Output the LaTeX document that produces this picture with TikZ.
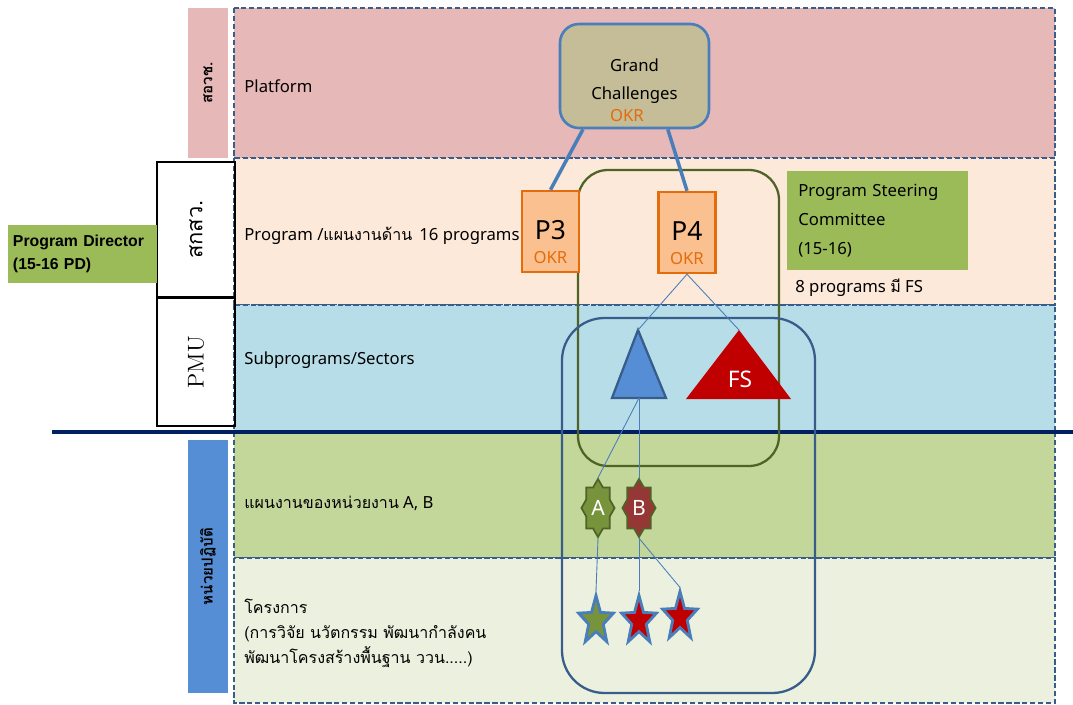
\documentclass[tikz,border=0pt]{standalone}
\usepackage{fontspec}
\setmainfont{Noto Sans}
\newfontfamily\thaifont[Script=Thai,Scale=0.96]{Loma}
\newfontfamily\pdfont{Liberation Sans}
\usetikzlibrary{shapes.geometric,positioning,calc}
\definecolor{pinkband}{HTML}{E6B8B7}
\definecolor{peachband}{HTML}{FDE9D9}
\definecolor{skyband}{HTML}{B7DDE8}
\definecolor{oliveband}{HTML}{C4D79B}
\definecolor{paleband}{HTML}{EBF1DE}
\definecolor{dashblue}{HTML}{385D8A}
\definecolor{navyline}{HTML}{002060}
\definecolor{linkblue}{HTML}{4A7EBB}
\definecolor{gcfill}{HTML}{C4BD97}
\definecolor{okrfill}{HTML}{FAC090}
\definecolor{okrline}{HTML}{E46C0A}
\definecolor{pdgreen}{HTML}{9BBB59}
\definecolor{darkolive}{HTML}{4F6228}
\definecolor{sideblue}{HTML}{558ED5}
\definecolor{fsred}{HTML}{C00000}
\definecolor{agreen}{HTML}{77933C}
\definecolor{bred}{HTML}{953735}
\tikzset{band/.style={
            draw=dashblue,
            line width=1.3pt,
            dash pattern=on 3pt off 1.5pt
        },
        rowlabel/.style={
            anchor=west,
            inner sep=0pt,
            align=left,
            font=\fontsize{9.5}{16.5}\selectfont
        },
        sidebox/.style={
            draw,
            line width=1.3pt,
            inner sep=0pt,
            rotate=90,
            minimum height=15.6mm
        },
        sidetag/.style={
            inner sep=0pt,
            rotate=90,
            minimum height=8mm,
            font=\thaifont\bfseries\fontsize{9}{10}\selectfont
        },
        okrbox/.style={
            draw=okrline,
            fill=okrfill,
            line width=1.4pt,
            inner sep=0pt,
            minimum width=11.4mm,
            minimum height=16.2mm,
            text height=3.9mm,
            text depth=0.9mm,
            font=\fontsize{15}{17}\selectfont,
            label={[text=okrline,anchor=center,yshift=3.2mm,
                    font=\fontsize{9.5}{11}\selectfont]south:OKR}
        },
        greenbox/.style={
            fill=pdgreen,
            inner sep=0pt,
            align=left
        },
        link/.style={
            linkblue,
            line width=0.5pt
        },
        unitstar/.style={
            star,
            star points=8,
            star point ratio=1.3,
            draw=darkolive,
            line width=1pt,
            inner sep=0pt,
            minimum size=11.6mm,
            xscale=0.57
        },
        projstar/.style={
            star,
            star points=5,
            star point ratio=2.4,
            draw=linkblue,
            line width=1.6pt,
            inner sep=0pt,
            minimum size=10.2mm,
            xscale=0.72
        },
        whitetext/.style={
            text=white,
            inner sep=0pt,
            font=\fontsize{12}{14}\selectfont
        }
    }

\begin{document}
\begin{tikzpicture}[x=0.2mm,y=-0.2mm]
        \useasboundingbox (0,0) rectangle (1073,705);
        % bands
        \draw[band,fill=pinkband] (234,8) rectangle (1055,158);
        \draw[band,fill=peachband] (234,158) rectangle (1055,305);
        \draw[band,fill=skyband] (234,305) rectangle (1055,432);
        \draw[band,fill=oliveband] (234,432) rectangle (1055,558);
        \draw[band,fill=paleband] (234,558) rectangle (1055,703);
        \coordinate (lineL) at (52,432);
        \coordinate (lineR) at (1073,432);
        \draw[navyline,line width=2.2pt] (lineL) -- (lineR);

        % left side labels
        \node[sidetag,fill=pinkband,minimum width=30mm] (sorwor) at (208,83) {สอวช.};
        \node[sidebox,minimum width=27mm,font=\thaifont\fontsize{13}{15}\selectfont] (sakasawor) at (196,229.5) {สกสว.};
        \node[sidebox,minimum width=25.6mm,font=\fontfamily{lmr}\selectfont\fontsize{13}{15}\selectfont] (pmu) at (196,362) {PMU};
        \node[sidetag,fill=sideblue,minimum width=50.6mm] (unit) at (208,566.5) {หน่วยปฏิบัติ};
        \node[greenbox,minimum width=29.8mm,minimum height=11.6mm,text width=27.8mm,
              font=\pdfont\bfseries\fontsize{9}{13}\selectfont] (pd) at (82.5,254) {Program Director\\(15-16 PD)};

        % row labels
        \node[rowlabel] (platform) at (244,86) {Platform};
        \node[rowlabel] (program) at (244,236) {Program /{\thaifont แผนงานด้าน}\ \,16 programs};
        \node[rowlabel] (subprog) at (244,360) {Subprograms/Sectors};
        \node[rowlabel] (unitplan) at (244,503) {{\thaifont แผนงานของหน่วยงาน} A, B};
        \node[rowlabel,font=\thaifont\fontsize{9.5}{14.2}\selectfont] (projects) at (244,633)
            {โครงการ\\(การวิจัย นวัตกรรม พัฒนากำลังคน\\พัฒนาโครงสร้างพื้นฐาน ววน.....)};

        % groups
        \draw[darkolive,line width=1.3pt,rounded corners=6mm] (578,170) rectangle (779,466);
        \draw[dashblue,line width=1.3pt,rounded corners=8.5mm] (562,318) rectangle (815,693);

        % boxes
        \node[draw=linkblue,fill=gcfill,line width=1.5pt,rounded corners=3.8mm,
              minimum width=29.8mm,minimum height=20.8mm,align=center,
              font=\fontsize{9.5}{16.5}\selectfont] (gc) at (634.5,76) {\rule{0pt}{4.6mm}Grand\\Challenges};
        \node[text=okrline,inner sep=0pt,font=\fontsize{9.5}{11}\selectfont] (gcokr) at (627,116) {OKR};
        \node[okrbox] (p3) at (550.5,231.5) {P3};
        \node[okrbox] (p4) at (687,232.5) {P4};
        \node[greenbox,anchor=north west,minimum width=36.2mm,minimum height=19.8mm,
              inner xsep=2.2mm,text width=31.8mm,font=\fontsize{9.5}{16.5}\selectfont]
            (psc) at (787,171) {Program Steering\\Committee\\(15-16)};
        \node[rowlabel] (fsnote) at (795,288) {8 programs {\thaifont มี} FS};

        % sectors
        \coordinate (subtop) at (638,330);
        \coordinate (subbase) at (639,398);
        \draw[dashblue,fill=sideblue,line width=1.3pt] (612,398) -- (subtop) -- (666,398) -- cycle;
        \coordinate (fstop) at (739,330);
        \fill[fsred] (686,399) -- (fstop) -- (791,399) -- cycle;
        \node[whitetext,font=\fontsize{13}{15}\selectfont] (fs) at (740,379) {FS};

        % units and projects
        \node[unitstar,fill=agreen] (unitA) at (598,508) {};
        \node[whitetext] (labA) at (unitA.center) {A};
        \node[unitstar,fill=bred] (unitB) at (639,508) {};
        \node[whitetext] (labB) at (unitB.center) {B};
        \node[projstar,fill=agreen] (proj1) at (596,621) {};
        \node[projstar,fill=fsred] (proj2) at (639,621) {};
        \node[projstar,fill=fsred] (proj3) at (680,617) {};

        % links
        \draw[linkblue,line width=2pt] (gc.226) -- (p3.north);
        \draw[linkblue,line width=2pt] (gc.302) -- (p4.north);
        \draw[link] (p4.south) -- (subtop);
        \draw[link] (p4.south) -- (fstop);
        \draw[link] (subbase) -- (unitA.north);
        \draw[link] (subbase) -- (unitB.north);
        \draw[link] (unitA.south) -- (proj1.north);
        \draw[link] (unitB.south) -- (proj2.north);
        \draw[link] (unitB.south) -- (proj3.north);
    \end{tikzpicture}
\end{document}
